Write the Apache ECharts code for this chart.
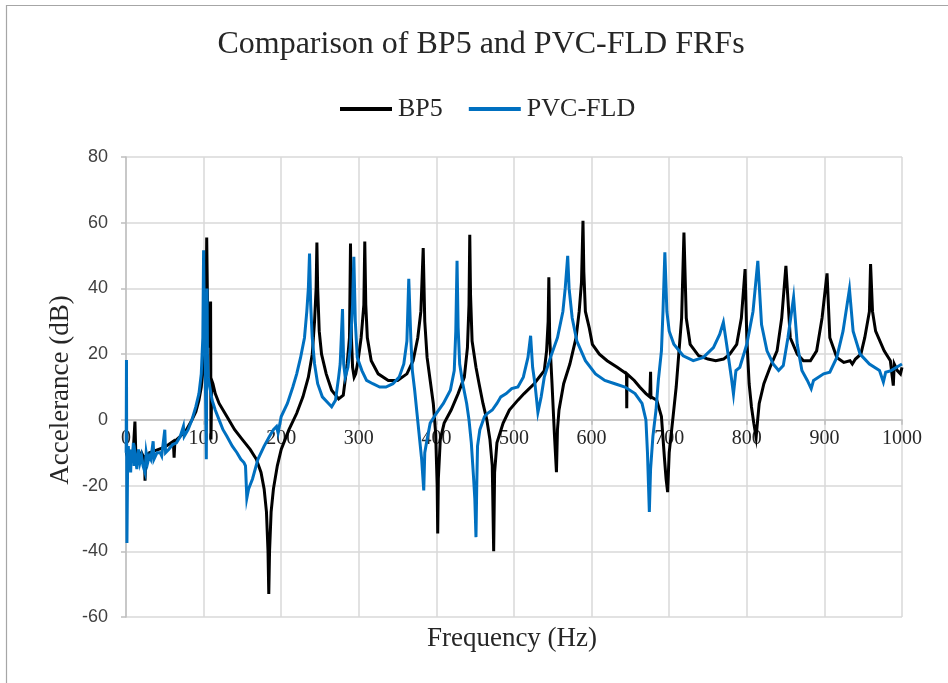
<!DOCTYPE html>
<html>
<head>
<meta charset="utf-8">
<script src="https://cdn.jsdelivr.net/npm/echarts@6/dist/echarts.min.js"></script>
<style>
html,body{margin:0;padding:0;background:#fff;}
#chart{width:948px;height:683px;}
</style>
</head>
<body>
<div id="chart"></div>
<script>
// ---- Data ----
var chartTitle = 'Comparison of BP5 and PVC-FLD FRFs';
var seriesNames = ['BP5', 'PVC-FLD'];
var xTitle = 'Frequency (Hz)';
var yTitle = 'Accelerance (dB)';

var bp5Freq = [0.5,3,6,9,11.5,12.5,16,20,24,24.5,25.5,30,36,42,48,55,61,62,63,70,78,85,90,94,97,100,102,103.5,104,104.8,105.5,107,108.5,109,109.5,110.5,112,115,120,130,140,150,160,168,174,178,181,183,184,185,187,190,195,200,210,220,228,235,240,243,245,246,247,249,252,258,265,274,280,285,288,289.3,290.5,292,294,296,299,303,306.5,307.7,309,311,316,325,338,350,362,370,376,380,383,385,388,392,396,399,401,401.7,402.5,405,410,419,428,436,440,442,443,444,446,451,455,460,465,469,472,473.8,475,478,486,494,505,513,526,539,542,544,544.9,546,549,552,554.7,556,558,564,572,580,584,587,588.9,590,592,597,601,610,620,633,645,645.3,645.6,655,662,670,675,676,676.5,684,690,694,696,698,700,705,709,712,716,719,722,727,738,750,760,770,778,787,793,797.8,800,803,806,809,812,814,816,822,830,839,845,850.4,856,865,873,882,890,897,903.4,907,916,925,933,936,940,947,952,958,959.5,962,966,977,985,988.8,990,994,998,1000];
var bp5Acc  = [-10,-12,-10,-11,-0.5,-9,-12,-10,-12,-18.5,-11,-10,-9.5,-9,-8.5,-7.5,-6.5,-11.5,-6.5,-5,-3,0,2.5,6,10,17,25,40,55.5,40,28,22,28,36,-6,12,11,8,5,1,-3,-6,-9,-12,-16,-21,-28,-40,-53,-40,-28,-21,-14,-9,-3,2,7,13,20,30,40,54,40,27,20,14,9,6.4,7.5,17,25,53.7,25,16,13,14,18,25,35,54.3,35,25,18,14,12,12,14,18,25,33,52.3,30,19,12,5,-4,-20,-34.6,-18,-6,-1,3,8,13,22,35,56.3,38,24,16,11,5,0,-6,-14,-40,-16,-7,-1,3,6,8,11,15,21,30,43.4,25,11,-4,-15.9,-3,3,11,17,25,33,42,60.6,45,33,28,23,20,18,16,14,3.5,14,12,10,8,7,14.6,7,6,1,-12,-18,-22,-10,1,10,19,31,57,31,23,19.5,18.5,18,18.5,20,23,31,45.9,25,11,4,-1,-5.3,0,5,11,16,21,31,46.9,25,20,18,18,21,31,44.6,25,19,17.5,18,17,18.5,20,25,33,47.4,33,27,21,18,10.4,17,15,14,16];

var pvcFreq = [0.2,0.6,1.2,2,3,4,5,6,7,8,9.5,10.5,12,14,16,18,20,22,24.5,26,28,30,32,35,36,40,44,46,50,51,55,60,65,70,74,75,80,85,90,94,97,99,100,101,102,103.5,104.5,105,106,108,111,115,120,125,130,137,143,148,152,154,155.7,158,163,170,178,185,190,194,196,200,208,215,220,225,230,233,235,236.5,238,240,243,247,253,261,265,270,274,276,279,280.5,282.5,286,289,292,293.6,295.5,298,304,310,318,327,335,344,352,358,362,364.4,367,369,372,375,378,381,383.7,385,388,392,400,409,418,423,425,426.6,428,430,434,439,442,445,448,449.5,451,452,453,456,462,466,472,478,483,490,497,505,512,518,521.4,524,527,530.8,535,539,547,556,563,566,569.2,571,575,581,592,605,617,630,643,656,665,670,672,674.4,676,679,683,686,690,692,694.4,697,700,706,718,731,744,757,765,769.8,774,780,782.8,786,791,800,808,814.2,819,826,834,841,847,853,860.3,865,871,878,883,886,899,907,916,924,932.3,937,946,958,971,976,979,986,993,1000];
var pvcAcc  = [-10,18.2,-37.5,-15,-8,-14,-10,-16,-9,-13,-7,-14,-11,-15,-9,-13,-11,-14,-16,-10,-13,-11,-12,-6.5,-12,-10,-10,-11,-3,-10,-9,-7.5,-7,-5,-2,-5,-3,0,4,8,14,25,51.6,30,18,-12,40,20,13,10,6,3,0,-3,-5,-8,-10,-12,-13,-14,-23.8,-21,-18,-12,-8,-5,-3,-2,-4,1,5,10,14,19,25,33,40,50.6,35,25,17,11,7,5,4,6,13,17,33.7,17,13,16,22,35,49.6,30,19,15,12,11,10,10,11,13,17,24,42.9,25,15,9,2,-5,-12,-21.5,-10,-6,-1,2,5,9,15,27,48.4,28,17,11,5,0,-7,-18,-24,-35.7,-20,-8,-3,1,2,3,5,7,8,9.5,10,13,19,25.6,16,11,2.3,7,13,19,25,33,40,49.9,40,31,24,18,14,12,11,10,8,5,0,-10,-28,-15,-5,3,12,21,33,51,33,27,23,19.5,18,19,22,26,29.7,23,13,7.9,15,16,23,33,48.4,29,21,17,15,16.5,25,37.3,23,15,12,9.5,12,14,14.5,19,27,39.8,27,20,17,15,11.5,14.5,15,16,17];

var yTicks = {min: -60, max: 80, step: 20};
var xTicks = {min: 0, max: 1000, step: 100};

function pairs(xs, ys) {
  var out = [];
  for (var i = 0; i < xs.length; i++) out.push([xs[i], ys[i]]);
  return out;
}

var chart = echarts.init(document.getElementById('chart'), null, {renderer: 'canvas'});
var serif = '"Liberation Serif", "Times New Roman", serif';
var sans = '"Liberation Sans", Arial, sans-serif';

var gridTop = 157, gridBottom = 66, plotH = 683 - gridTop - gridBottom;
// distance from bottom of plot to the zero line (moves the x axis onto y = 0)
var zeroOffset = plotH * (0 - yTicks.min) / (yTicks.max - yTicks.min);

chart.setOption({
  backgroundColor: '#ffffff',
  animation: false,
  grid: {left: 126, right: 46, top: gridTop, bottom: gridBottom, containLabel: false},
  legend: {
    data: seriesNames,
    left: 335, top: 91,
    itemWidth: 52, itemHeight: 4, itemGap: 26,
    icon: 'rect',
    textStyle: {fontFamily: serif, fontSize: 26, color: '#262626', padding: [0,0,0,1]}
  },
  xAxis: {
    type: 'value', min: xTicks.min, max: xTicks.max, interval: xTicks.step,
    position: 'bottom', offset: -zeroOffset,
    axisLine: {onZero: false, lineStyle: {color: '#bfbfbf', width: 1.5}},
    axisTick: {show: true, length: 5, lineStyle: {color: '#bfbfbf', width: 1.5}},
    axisLabel: {fontFamily: serif, fontSize: 20, color: '#262626', margin: 9,
      formatter: function (v) { return String(v); }},
    splitLine: {show: true, lineStyle: {color: '#d9d9d9', width: 1.5}}
  },
  yAxis: {
    type: 'value', min: yTicks.min, max: yTicks.max, interval: yTicks.step,
    axisLine: {show: true, lineStyle: {color: '#bfbfbf', width: 1.5}},
    axisTick: {show: true, length: 5, lineStyle: {color: '#bfbfbf', width: 1.5}},
    axisLabel: {fontFamily: sans, fontSize: 18, color: '#404040', margin: 18},
    splitLine: {show: true, lineStyle: {color: '#d9d9d9', width: 1.5}}
  },
  graphic: [
    {type: 'rect', left: 4, top: 3, shape: {width: 1000, height: 1000},
     style: {fill: 'none', stroke: '#a6a6a6', lineWidth: 1.2}, silent: true, z: -10},
    {type: 'text', x: 481, y: 45, style: {text: chartTitle, font: '32px ' + serif, fill: '#262626', textAlign: 'center', textVerticalAlign: 'middle'}},
    {type: 'text', x: 512, y: 639, style: {text: xTitle, font: '27px ' + serif, fill: '#262626', textAlign: 'center', textVerticalAlign: 'middle'}},
    {type: 'text', x: 61, y: 390, rotation: Math.PI / 2, style: {text: yTitle, font: '27px ' + serif, fill: '#262626', textAlign: 'center', textVerticalAlign: 'middle'}}
  ],
  series: [
    {name: seriesNames[0], type: 'line', data: pairs(bp5Freq, bp5Acc), showSymbol: false, symbol: 'none',
     lineStyle: {color: '#000000', width: 3, join: 'miter', miterLimit: 10}, itemStyle: {color: '#000000'}, z: 2},
    {name: seriesNames[1], type: 'line', data: pairs(pvcFreq, pvcAcc), showSymbol: false, symbol: 'none',
     lineStyle: {color: '#0070C0', width: 3, join: 'miter', miterLimit: 10}, itemStyle: {color: '#0070C0'}, z: 3}
  ]
});
</script>
</body>
</html>
